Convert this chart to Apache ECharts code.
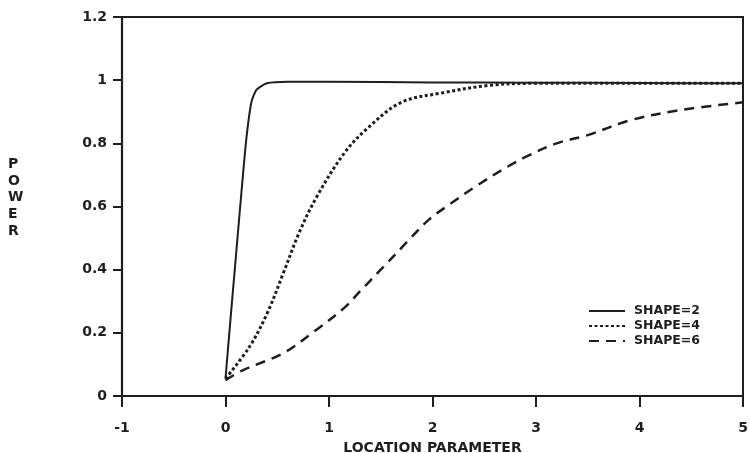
<!DOCTYPE html>
<html>
<head>
<meta charset="utf-8">
<script src="https://cdn.jsdelivr.net/npm/echarts@6/dist/echarts.min.js"></script>
<style>
  html, body { margin: 0; padding: 0; background: #fff; }
  #chart { width: 750px; height: 453px; }
</style>
</head>
<body>
<div id="chart"></div>
<script>
// Power curves against location parameter, one per shape value
const shape2X = [0, 0.05, 0.1, 0.15, 0.2, 0.25, 0.3, 0.4, 0.6, 1, 2, 3, 4, 5];
const shape2Y = [0.055, 0.25, 0.44, 0.63, 0.81, 0.93, 0.97, 0.99, 0.995, 0.995, 0.993, 0.992, 0.991, 0.99];

const shape4X = [0, 0.23, 0.4, 0.56, 0.71, 0.88, 1.15, 1.38, 1.7, 2.1, 2.56, 3, 4, 5];
const shape4Y = [0.055, 0.155, 0.26, 0.39, 0.516, 0.63, 0.77, 0.85, 0.93, 0.96, 0.984, 0.99, 0.99, 0.99];

const shape6X = [0, 0.17, 0.56, 0.88, 1.15, 1.31, 1.53, 1.76, 1.96, 2.18, 2.4, 2.72, 2.92, 3.2, 3.5, 3.91, 4.39, 5];
const shape6Y = [0.05, 0.082, 0.136, 0.21, 0.28, 0.335, 0.41, 0.49, 0.557, 0.61, 0.66, 0.725, 0.76, 0.8, 0.826, 0.873, 0.905, 0.93];

const seriesNames = ['SHAPE=2', 'SHAPE=4', 'SHAPE=6'];
const xTicks = { min: -1, max: 5, step: 1 };
const yTicks = { min: 0, max: 1.2, step: 0.2 };

const ink = '#1e1e1e';
const font = '"DejaVu Sans", "Liberation Sans", sans-serif';

function pairs(xs, ys) { return xs.map((x, i) => [x, ys[i]]); }

const chart = echarts.init(document.getElementById('chart'), null, { renderer: 'canvas' });

chart.setOption({
  animation: false,
  backgroundColor: '#fff',
  grid: {
    left: 122, right: 7, top: 17, bottom: 57,
    outerBoundsMode: 'none', containLabel: false,
    show: true, borderColor: ink, borderWidth: 2, backgroundColor: 'transparent'
  },
  xAxis: {
    type: 'value',
    min: xTicks.min, max: xTicks.max, interval: xTicks.step,
    name: 'LOCATION PARAMETER',
    nameLocation: 'middle', nameGap: 45,
    nameTextStyle: { fontFamily: font, fontWeight: 'bold', fontSize: 14, color: ink },
    axisLine: { show: true, onZero: false, lineStyle: { color: ink, width: 2.2 } },
    axisTick: { show: true, inside: false, length: 11, lineStyle: { color: ink, width: 2 } },
    axisLabel: { fontFamily: font, fontWeight: 'bold', fontSize: 14, color: ink, margin: 25 },
    splitLine: { show: false }
  },
  yAxis: {
    type: 'value',
    min: yTicks.min, max: yTicks.max, interval: yTicks.step,
    axisLine: { show: true, onZero: false, lineStyle: { color: ink, width: 2.2 } },
    axisTick: { show: true, inside: false, length: 9, lineStyle: { color: ink, width: 2 } },
    axisLabel: { fontFamily: font, fontWeight: 'bold', fontSize: 14, color: ink, margin: 15 },
    splitLine: { show: false }
  },
  legend: {
    data: seriesNames,
    orient: 'vertical',
    left: 583, top: 299,
    itemWidth: 36, itemHeight: 8, itemGap: 1,
    itemStyle: { opacity: 0 },
    textStyle: { fontFamily: font, fontWeight: 'bold', fontSize: 12.5, lineHeight: 14, color: ink, padding: [0, 0, 0, 4] }
  },
  graphic: [{
    type: 'text',
    left: 8, top: 156,
    style: {
      text: 'P\nO\nW\nE\nR',
      fontFamily: font, fontWeight: 'bold', fontSize: 14, lineHeight: 16.7,
      fill: ink, align: 'center'
    }
  }],
  series: [
    {
      name: seriesNames[0], type: 'line', data: pairs(shape2X, shape2Y),
      symbol: 'none', smooth: 0.2,
      lineStyle: { color: ink, width: 2, type: 'solid' },
      itemStyle: { color: ink }
    },
    {
      name: seriesNames[1], type: 'line', data: pairs(shape4X, shape4Y),
      symbol: 'none', smooth: 0.35,
      lineStyle: { color: ink, width: 3, type: [3, 2.5] },
      itemStyle: { color: ink }
    },
    {
      name: seriesNames[2], type: 'line', data: pairs(shape6X, shape6Y),
      symbol: 'none', smooth: 0.35,
      lineStyle: { color: ink, width: 2.5, type: [10, 7] },
      itemStyle: { color: ink }
    }
  ]
});
</script>
</body>
</html>
